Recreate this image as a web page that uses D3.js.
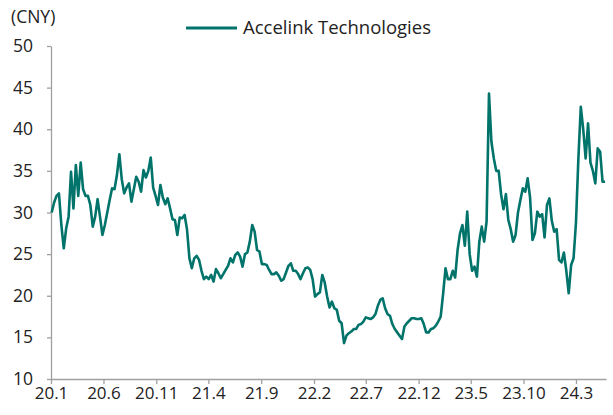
<!DOCTYPE html>
<html>
<head>
<meta charset="utf-8">
<script src="https://cdn.jsdelivr.net/npm/d3@7"></script>
<style>
  html, body { margin: 0; padding: 0; background: #fff; }
  svg { display: block; }
  text { font-family: "Open Sans", "Noto Sans", sans-serif; fill: #222; }
</style>
</head>
<body>
<div id="chart"></div>
<script>
// ---- data (weekly closes) ----
const seriesName = "Accelink Technologies";
const unitLabel = "(CNY)";
const firstWeek = "2020-01-03";
const prices = [
  30.0, 31.2, 32.0, 32.3, 28.5, 25.7, 28.1, 29.5, 34.9, 30.5,
  35.7, 32.0, 36.0, 32.8, 32.0, 32.0, 30.9, 28.3, 29.5, 31.6,
  29.5, 27.3, 28.5, 30.0, 31.5, 32.9, 32.8, 34.5, 37.0, 34.0,
  32.3, 33.0, 33.5, 31.3, 32.8, 34.3, 33.7, 32.5, 35.1, 34.2,
  35.0, 36.6, 33.0, 32.0, 30.9, 33.3, 31.8, 31.0, 31.7, 30.5,
  29.2, 29.1, 27.3, 29.4, 29.3, 29.7, 28.0, 24.5, 23.3, 24.5,
  24.8, 24.3, 23.0, 22.0, 22.3, 22.0, 22.5, 21.7, 23.2, 22.7,
  22.1, 22.6, 23.1, 23.6, 24.5, 24.0, 24.9, 25.2, 24.7, 23.5,
  25.0, 25.2, 26.5, 28.5, 27.7, 25.5, 25.3, 23.8, 23.8, 23.7,
  23.1, 22.6, 22.6, 22.8, 22.4, 21.8, 22.0, 22.8, 23.6, 23.9,
  23.0, 23.0, 22.6, 22.0, 22.7, 23.3, 23.4, 23.1, 22.0, 19.9,
  20.2, 20.4, 22.5, 21.6, 19.9, 18.6, 19.3, 18.5, 18.3, 17.0,
  16.7, 14.3, 15.2, 15.5, 15.7, 16.0, 16.0, 16.5, 16.6, 16.9,
  17.4, 17.3, 17.2, 17.4, 17.8, 18.8, 19.5, 19.7, 18.5, 17.8,
  17.6, 16.6, 16.0, 15.6, 15.2, 14.8, 16.3, 16.7, 17.0, 17.3,
  17.3, 17.2, 17.2, 17.3, 16.6, 15.6, 15.6, 16.0, 16.1, 16.4,
  16.9, 17.5, 20.2, 23.3, 22.0, 22.0, 23.0, 22.2, 25.5, 27.5,
  28.5, 26.0, 30.1, 25.0, 23.0, 23.5, 22.3, 26.5, 28.3, 26.5,
  28.9, 44.3, 38.5, 36.5, 35.0, 35.0, 32.2, 30.4, 32.2, 29.1,
  28.0, 26.5, 27.3, 30.0, 31.5, 32.9, 32.5, 34.1, 31.8, 26.7,
  27.5, 30.1, 29.5, 29.8, 27.0, 30.9, 31.7, 29.0, 27.7, 28.0,
  24.3, 24.0, 25.2, 23.0, 20.3, 23.7, 24.5, 28.8, 36.5, 42.7,
  40.0, 36.5, 40.7, 36.0, 35.0, 33.5, 37.7, 37.3, 33.7, 33.7
];
const yTicks = [10, 15, 20, 25, 30, 35, 40, 45, 50];
const xTickLabels = ["20.1", "20.6", "20.11", "21.4", "21.9", "22.2", "22.7", "22.12", "23.5", "23.10", "24.3"];
const xStart = "2020-01-01";
const xEnd = "2024-05-27";

// ---- build ----
const W = 613, H = 415;
const parse = d3.timeParse("%Y-%m-%d");
const start = parse(firstWeek);
const data = prices.map((v, i) => ({ date: d3.timeDay.offset(start, 7 * i), value: v }));
const tickDates = xTickLabels.map(s => {
  const [yy, mm] = s.split(".").map(Number);
  return new Date(2000 + yy, mm - 1, 1);
});

const margin = { left: 51, right: 7, top: 46, bottom: 36 };
const x = d3.scaleTime().domain([parse(xStart), parse(xEnd)]).range([margin.left, W - margin.right]);
const y = d3.scaleLinear().domain([10, 50]).range([H - margin.bottom, margin.top]);

const svg = d3.select("#chart").append("svg").attr("width", W).attr("height", H);

const axisColor = "#a0a0a0";

// y axis
const yAxis = svg.append("g").attr("transform", `translate(${margin.left},0)`)
  .call(d3.axisLeft(y).tickValues(yTicks).tickSize(4).tickPadding(14).tickSizeOuter(0));
yAxis.select(".domain").attr("stroke", axisColor).attr("stroke-width", 1.3);
yAxis.selectAll(".tick line").attr("stroke", axisColor).attr("stroke-width", 1.3);
yAxis.selectAll(".tick text").style("font-size", "17.5px").attr("fill", "#222");

// x axis
const xAxis = svg.append("g").attr("transform", `translate(0,${y(10)})`)
  .call(d3.axisBottom(x).tickValues(tickDates).tickFormat((d, i) => xTickLabels[i]).tickSize(5).tickPadding(3).tickSizeOuter(0));
xAxis.select(".domain").attr("stroke", axisColor).attr("stroke-width", 1.3);
xAxis.selectAll(".tick line").attr("stroke", axisColor).attr("stroke-width", 1.3);
xAxis.selectAll(".tick text").style("font-size", "17px").attr("fill", "#222");

// unit label
svg.append("text").attr("x", 11).attr("y", 23).style("font-size", "17.5px").text(unitLabel);

// line
const line = d3.line().x(d => x(d.date)).y(d => y(d.value)).curve(d3.curveLinear);
svg.append("path").datum(data)
  .attr("fill", "none").attr("stroke", "#00736a").attr("stroke-width", 2.6)
  .attr("stroke-linejoin", "round").attr("d", line);

// legend
const lg = svg.append("g").attr("transform", "translate(186,28)");
lg.append("line").attr("x1", 0).attr("x2", 51).attr("y1", 0).attr("y2", 0)
  .attr("stroke", "#00736a").attr("stroke-width", 3);
lg.append("text").attr("x", 57).attr("y", 0).attr("dy", "0.35em").style("font-size", "18.5px").text(seriesName);
</script>
</body>
</html>
